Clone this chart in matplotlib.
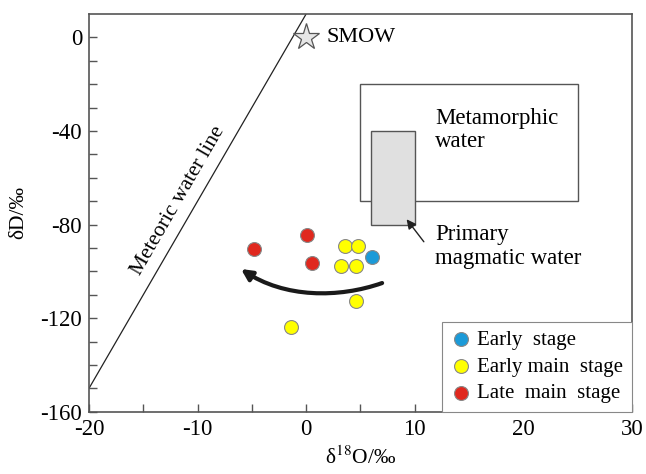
import matplotlib
matplotlib.use("Agg")
import matplotlib.pyplot as plt
from matplotlib.patches import Rectangle, FancyArrowPatch
from matplotlib.path import Path

plt.rcParams['font.family'] = ['Liberation Serif', 'DejaVu Serif']
plt.rcParams['mathtext.fontset'] = 'stix'
plt.rcParams['axes.unicode_minus'] = False

# data
early_x = [6.1]
early_y = [-94.0]
early_main_x = [3.6, 4.8, 3.2, 4.6, 4.6, -1.4]
early_main_y = [-89.2, -89.2, -97.7, -97.7, -112.7, -123.7]
late_main_x = [-4.8, 0.1, 0.5]
late_main_y = [-90.5, -84.3, -96.6]

mwl_x = [-20, 0]           # meteoric water line dD = 8*d18O + 10
mwl_y = [8 * v + 10 for v in mwl_x]
meta_box = (5, -70, 20, 50)      # x0, y0, w, h
magm_box = (6, -80, 4, 40)
trend_x = [7.0, 3.0, -2.0, -6.0]   # cubic bezier control points
trend_y = [-105.0, -111.5, -111.5, -99.0]

axc = '#555555'
fig = plt.figure(figsize=(6.46, 4.74), dpi=100)
ax = fig.add_axes([0.1378, 0.1314, 0.8402, 0.8391])
ax.set_xlim(-20, 30)
ax.set_ylim(-160, 10)

ax.plot(mwl_x, mwl_y, color='#222222', lw=0.9)
ax.text(-11.8, -70, 'Meteoric water line', rotation=60, ha='center', va='center', fontsize=15.5)

ax.plot([0], [0], marker='*', ms=20, mfc='#e6e6e6', mec='#555555', mew=0.9, ls='none')
ax.text(1.9, 0, 'SMOW', fontsize=16, va='center')

ax.add_patch(Rectangle(meta_box[:2], meta_box[2], meta_box[3], fill=False, ec=axc, lw=1.0))
ax.add_patch(Rectangle(magm_box[:2], magm_box[2], magm_box[3], fc='#e0e0e0', ec=axc, lw=1.0))
ax.text(11.9, -39.6, 'Metamorphic\nwater', fontsize=16.5, va='center', ha='left', linespacing=1.15)
ax.text(11.9, -89.4, 'Primary\nmagmatic water', fontsize=16.5, va='center', ha='left', linespacing=1.15)
ax.annotate('', xy=(9.1, -76.8), xytext=(11.0, -88.3),
            arrowprops=dict(arrowstyle='-|>', color='#222222', lw=1.0, mutation_scale=14))

# curved trend arrow
path = Path(list(zip(trend_x, trend_y)),
            [Path.MOVETO, Path.CURVE4, Path.CURVE4, Path.CURVE4])
ax.add_patch(FancyArrowPatch(path=path, arrowstyle='-|>', mutation_scale=16,
                             color='#1a1a1a', lw=3))

kw = dict(s=100, edgecolors='#888888', linewidths=0.8, zorder=5)
ax.scatter(early_x, early_y, c='#1b9ad8', label='Early  stage', **kw)
ax.scatter(early_main_x, early_main_y, c='#ffff00', label='Early main  stage', **kw)
ax.scatter(late_main_x, late_main_y, c='#e0281e', label='Late  main  stage', **kw)

leg = ax.legend(loc='lower right', borderaxespad=0, fancybox=False, framealpha=1,
                fontsize=15, handletextpad=0.3, borderpad=0.4, labelspacing=0.35,
                handlelength=1.0)
leg.get_frame().set_edgecolor('#888888')
leg.get_frame().set_linewidth(0.8)

ax.set_xticks([-20, -10, 0, 10, 20, 30])
ax.set_xticks(range(-20, 31, 5), minor=True)
ax.set_yticks([-160, -120, -80, -40, 0])
ax.set_yticks(range(-160, 10, 10), minor=True)
ax.tick_params(which='both', direction='in', colors=axc, labelcolor='black', labelsize=16.5,
               top=False, right=False, pad=5)
ax.tick_params(which='both', length=6, width=1)
for s in ax.spines.values():
    s.set_color(axc)
    s.set_linewidth(1.2)

ax.set_xlabel('δ$^{18}$O/‰', fontsize=15.5, labelpad=5)
ax.set_ylabel('δD/‰', fontsize=15.5, labelpad=9)

fig.savefig('out.png', dpi=100)
